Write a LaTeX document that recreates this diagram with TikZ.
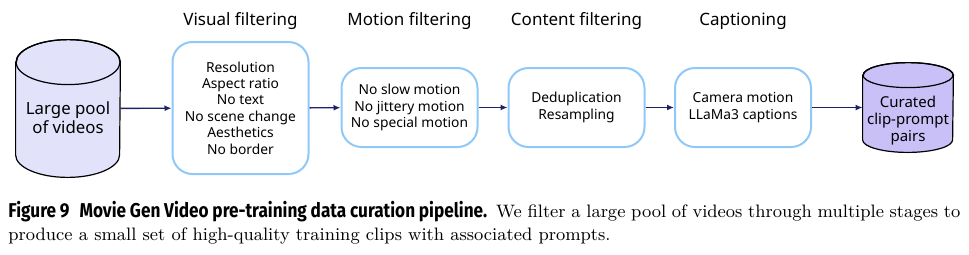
\documentclass[tikz,border=0pt]{standalone}
\usepackage{fontspec}
\usepackage{xcolor}
\setsansfont{Noto Sans}
\newfontfamily\capsans{Fira Sans}[FakeStretch=0.86]
\usetikzlibrary{shapes.geometric, arrows.meta, positioning}

\definecolor{stageblue}{HTML}{90C8F8}
\definecolor{poolfill}{HTML}{E2E2FA}
\definecolor{outfill}{HTML}{C8C0F6}
\definecolor{flownavy}{HTML}{1C2266}

\tikzset{
    stagebox/.style={draw=stageblue, line width=1pt, rounded corners=10pt, fill=white,
        minimum width=68pt, align=center, font=\sffamily\fontsize{6.9}{8.2}\selectfont},
    stagetitle/.style={font=\sffamily\fontsize{8.5}{10}\selectfont},
    store/.style={rectangle, inner sep=0pt},
    storetext/.style={align=center, inner sep=0pt},
    flow/.style={-{Latex[length=3.5pt, width=3pt]}, draw=flownavy, fill=flownavy, line width=0.7pt}
}

% cylinder outline round a store node: #1 = node, #2 = x radius, #3 = y radius
\newcommand{\drumbody}[4]{%
    \draw[line width=0.6pt, fill=#4] ([yshift=-#3]#1.north west) -- ([yshift=#3]#1.south west)
        arc[start angle=180, end angle=360, x radius=#2, y radius=#3]
        -- ([yshift=-#3]#1.north east)
        arc[start angle=0, end angle=180, x radius=#2, y radius=#3] -- cycle;
    \draw[line width=0.6pt] ([yshift=-#3]#1.north) ellipse[x radius=#2, y radius=#3];
}

\begin{document}
\begin{tikzpicture}[x=0.5pt, y=-0.5pt]
    \useasboundingbox (0,0) rectangle (969,254);

    % Input pool
    \node[store, minimum width=52pt, minimum height=68.5pt] (pool) at (68,108.5) {};
    \drumbody{pool}{26pt}{11.25pt}{poolfill}
    \node[storetext, font=\sffamily\fontsize{8.4}{9.5}\selectfont] (pooltext)
        at ([yshift=-4.75pt]pool.center) {Large pool\\of videos};

    % Filtering stages
    \node[stagebox, minimum height=66pt] (visual) at (240.5,108) {Resolution\\Aspect ratio\\No text\\No scene change\\Aesthetics\\No border};
    \node[stagebox, minimum height=39.5pt] (motion) at (409.5,107.5) {No slow motion\\No jittery motion\\No special motion};
    \node[stagebox, minimum height=39.5pt] (content) at (576.5,107.5) {Deduplication\\Resampling};
    \node[stagebox, minimum height=39.5pt] (caption) at (743,107.5) {Camera motion\\LLaMa3 captions};

    % Output pairs
    \node[store, minimum width=45pt, minimum height=44.5pt] (pairs) at (908,107.5) {};
    \drumbody{pairs}{22.5pt}{6.25pt}{outfill}
    \node[storetext, font=\sffamily\fontsize{7.5}{8.5}\selectfont] (pairstext)
        at ([yshift=-6.5pt]pairs.center) {Curated\\clip-prompt\\pairs};

    % Stage titles
    \node[stagetitle] (visualtitle) at (240.5,21) {Visual filtering};
    \node[stagetitle] (motiontitle) at (motion |- visualtitle) {Motion filtering};
    \node[stagetitle] (contenttitle) at (content |- visualtitle) {Content filtering};
    \node[stagetitle] (captiontitle) at (caption |- visualtitle) {Captioning};

    % Arrows
    \draw[flow] (pool) -- (visual);
    \draw[flow] (visual) -- (motion);
    \draw[flow] (motion) -- (content);
    \draw[flow] (content) -- (caption);
    \draw[flow] (caption) -- (pairs);

    % Figure caption
    \node[anchor=north west, inner sep=0pt, text width=476pt, align=justify,
        font=\fontsize{9}{11.5}\selectfont] (figcap) at (8,201)
        {{\capsans\bfseries\fontsize{10}{11.5}\selectfont Figure 9\enspace Movie Gen Video pre-training data curation pipeline.}\enspace We filter a large pool of videos through multiple stages to produce a small set of high-quality training clips with associated prompts.};
\end{tikzpicture}
\end{document}
